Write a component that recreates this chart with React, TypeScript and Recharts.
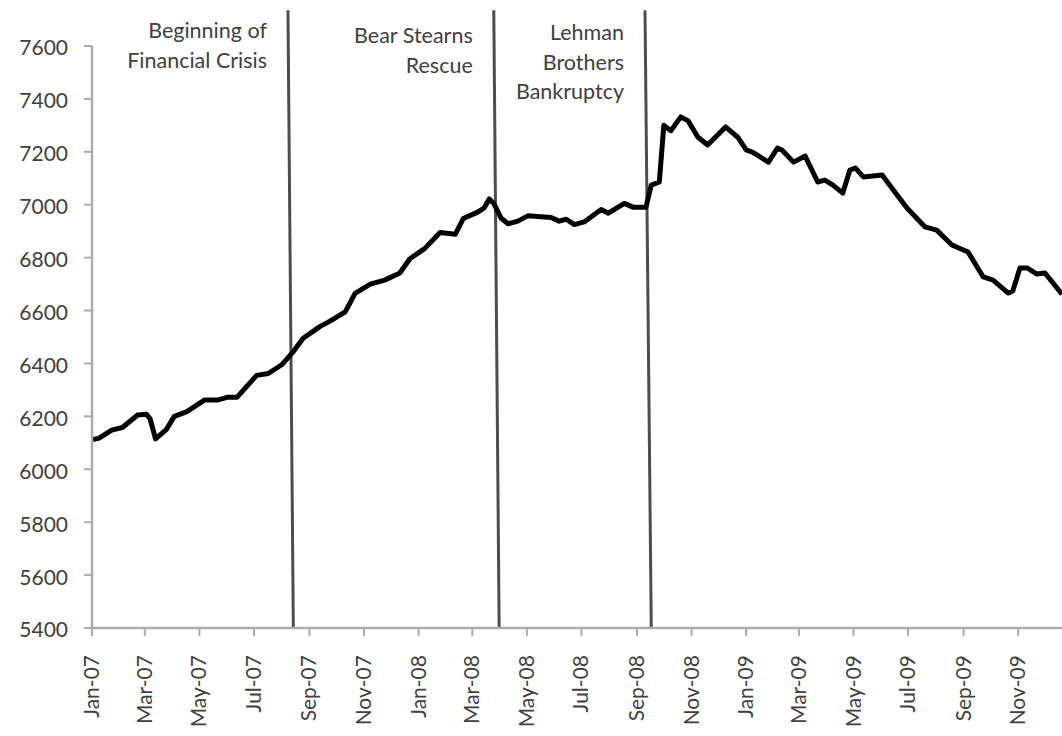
import { Line, LineChart, ReferenceLine, XAxis, YAxis } from 'recharts';

const DATES = [
  '2007-01-02', '2007-01-09', '2007-01-23', '2007-02-04', '2007-02-21', '2007-03-03',
  '2007-03-07', '2007-03-13', '2007-03-25', '2007-04-03', '2007-04-17', '2007-05-07',
  '2007-05-22', '2007-06-01', '2007-06-12', '2007-07-04', '2007-07-17', '2007-08-01',
  '2007-08-14', '2007-08-25', '2007-09-13', '2007-09-24', '2007-10-11', '2007-10-22',
  '2007-11-08', '2007-11-24', '2007-12-11', '2007-12-22', '2008-01-08', '2008-01-25',
  '2008-02-11', '2008-02-20', '2008-03-07', '2008-03-14', '2008-03-20', '2008-03-25',
  '2008-04-02', '2008-04-10', '2008-04-21', '2008-05-02', '2008-05-28', '2008-06-06',
  '2008-06-14', '2008-06-23', '2008-07-04', '2008-07-23', '2008-07-31', '2008-08-18',
  '2008-08-28', '2008-09-11', '2008-09-17', '2008-09-26', '2008-10-01', '2008-10-09',
  '2008-10-20', '2008-10-28', '2008-11-08', '2008-11-19', '2008-12-09', '2008-12-23',
  '2009-01-01', '2009-01-08', '2009-01-26', '2009-02-05', '2009-02-10', '2009-02-23',
  '2009-03-08', '2009-03-22', '2009-03-30', '2009-04-08', '2009-04-19', '2009-04-27',
  '2009-05-03', '2009-05-12', '2009-06-02', '2009-06-17', '2009-06-30', '2009-07-20',
  '2009-08-02', '2009-08-19', '2009-09-06', '2009-09-23', '2009-10-04', '2009-10-21',
  '2009-10-26', '2009-11-03', '2009-11-11', '2009-11-22', '2009-12-01', '2009-12-20',
];

const VALUES = [
  6112, 6118, 6148, 6158, 6205, 6208,
  6190, 6115, 6150, 6200, 6218, 6262,
  6262, 6272, 6272, 6355, 6362, 6395,
  6445, 6495, 6540, 6560, 6595, 6665,
  6700, 6715, 6742, 6795, 6835, 6895,
  6888, 6948, 6972, 6987, 7022, 7005,
  6950, 6928, 6938, 6958, 6952, 6938,
  6945, 6925, 6935, 6982, 6968, 7005,
  6990, 6990, 7074, 7086, 7300, 7280,
  7332, 7318, 7256, 7226, 7294, 7254,
  7207, 7199, 7161, 7214, 7207, 7161,
  7184, 7086, 7093, 7074, 7044, 7131,
  7139, 7105, 7112, 7044, 6987, 6916,
  6904, 6848, 6821, 6727, 6715, 6666,
  6674, 6761, 6761, 6738, 6742, 6662,
];

const X_TICKS = [
  '2007-01-01', '2007-03-01', '2007-05-01', '2007-07-01', '2007-09-01', '2007-11-01',
  '2008-01-01', '2008-03-01', '2008-05-01', '2008-07-01', '2008-09-01', '2008-11-01',
  '2009-01-01', '2009-03-01', '2009-05-01', '2009-07-01', '2009-09-01', '2009-11-01',
];
const X_START = '2007-01-01';
const X_END = '2009-12-20';

const Y_TICKS = [5400, 5600, 5800, 6000, 6200, 6400, 6600, 6800, 7000, 7200, 7400, 7600];

const MONTHS = ['Jan', 'Feb', 'Mar', 'Apr', 'May', 'Jun', 'Jul', 'Aug', 'Sep', 'Oct', 'Nov', 'Dec'];

// event markers: slightly tilted lines, label stacked to the left
const EVENTS = [
  { lines: ['Beginning of', 'Financial Crisis'], top: '2007-08-08', bottom: '2007-08-14', dy: 28 },
  { lines: ['Bear Stearns', 'Rescue'], top: '2008-03-25', bottom: '2008-03-31', dy: 33 },
  { lines: ['Lehman', 'Brothers', 'Bankruptcy'], top: '2008-09-10', bottom: '2008-09-17', dy: 30 },
];

const FONT = 'Lato, "Open Sans", sans-serif';
const AXIS = '#acacac';
const TEXT = '#404040';

const data = DATES.map((d, i) => ({ t: Date.parse(d), value: VALUES[i] }));

const fmtMonth = (t: number) => {
  const d = new Date(t);
  return `${MONTHS[d.getUTCMonth()]}-${String(d.getUTCFullYear() % 100).padStart(2, '0')}`;
};

function XTick({ x, y, payload }: any) {
  const px = x + 7;
  return (
    <text
      x={px}
      y={y}
      transform={`rotate(-90 ${px} ${y})`}
      textAnchor="end"
      fontSize={21}
      fontFamily={FONT}
      fill={TEXT}
    >
      {fmtMonth(payload.value)}
    </text>
  );
}

function eventShape(lines: string[], dy: number) {
  return (p: any) => (
    <g>
      <line x1={p.x1} y1={p.y1} x2={p.x2} y2={p.y2} stroke="#4d4d4d" strokeWidth={3} />
      <text
        x={p.x1 - 21}
        y={p.y1 + dy}
        textAnchor="end"
        fontSize={21.5}
        fontFamily={FONT}
        fill={TEXT}
      >
        {lines.map((l, i) => (
          <tspan key={l} x={p.x1 - 21} dy={i === 0 ? 0 : 29.5}>
            {l}
          </tspan>
        ))}
      </text>
    </g>
  );
}

export default function App() {
  return (
    <div
      style={{
        position: 'absolute',
        left: 0,
        top: 0,
        width: 1062,
        height: 736,
        overflow: 'hidden',
        background: '#ffffff',
        fontFamily: FONT,
      }}
    >
      <LineChart width={1062} height={736} data={data} margin={{ top: 46, right: 0, bottom: 0, left: 0 }}>
        <XAxis
          dataKey="t"
          type="number"
          domain={[Date.parse(X_START), Date.parse(X_END)]}
          ticks={X_TICKS.map((d) => Date.parse(d))}
          allowDataOverflow
          height={108}
          tick={<XTick />}
          tickSize={8}
          tickMargin={19}
          axisLine={{ stroke: AXIS, strokeWidth: 2.5 }}
          tickLine={{ stroke: AXIS, strokeWidth: 2 }}
          interval={0}
        />
        <YAxis
          domain={[5400, 7600]}
          ticks={Y_TICKS}
          width={92}
          tickSize={8}
          tickMargin={16}
          interval={0}
          tick={{ fontSize: 21, fill: TEXT, fontFamily: FONT, dy: 2 }}
          axisLine={{ stroke: AXIS, strokeWidth: 2.5 }}
          tickLine={{ stroke: AXIS, strokeWidth: 2 }}
        />
        {EVENTS.map((e) => (
          <ReferenceLine
            key={e.top}
            segment={[
              { x: Date.parse(e.top), y: 7735 },
              { x: Date.parse(e.bottom), y: 5400 },
            ]}
            ifOverflow="visible"
            shape={eventShape(e.lines, e.dy)}
          />
        ))}
        <Line
          type="linear"
          dataKey="value"
          stroke="#000000"
          strokeWidth={5}
          strokeLinejoin="round"
          dot={false}
          activeDot={false}
          isAnimationActive={false}
        />
      </LineChart>
    </div>
  );
}
